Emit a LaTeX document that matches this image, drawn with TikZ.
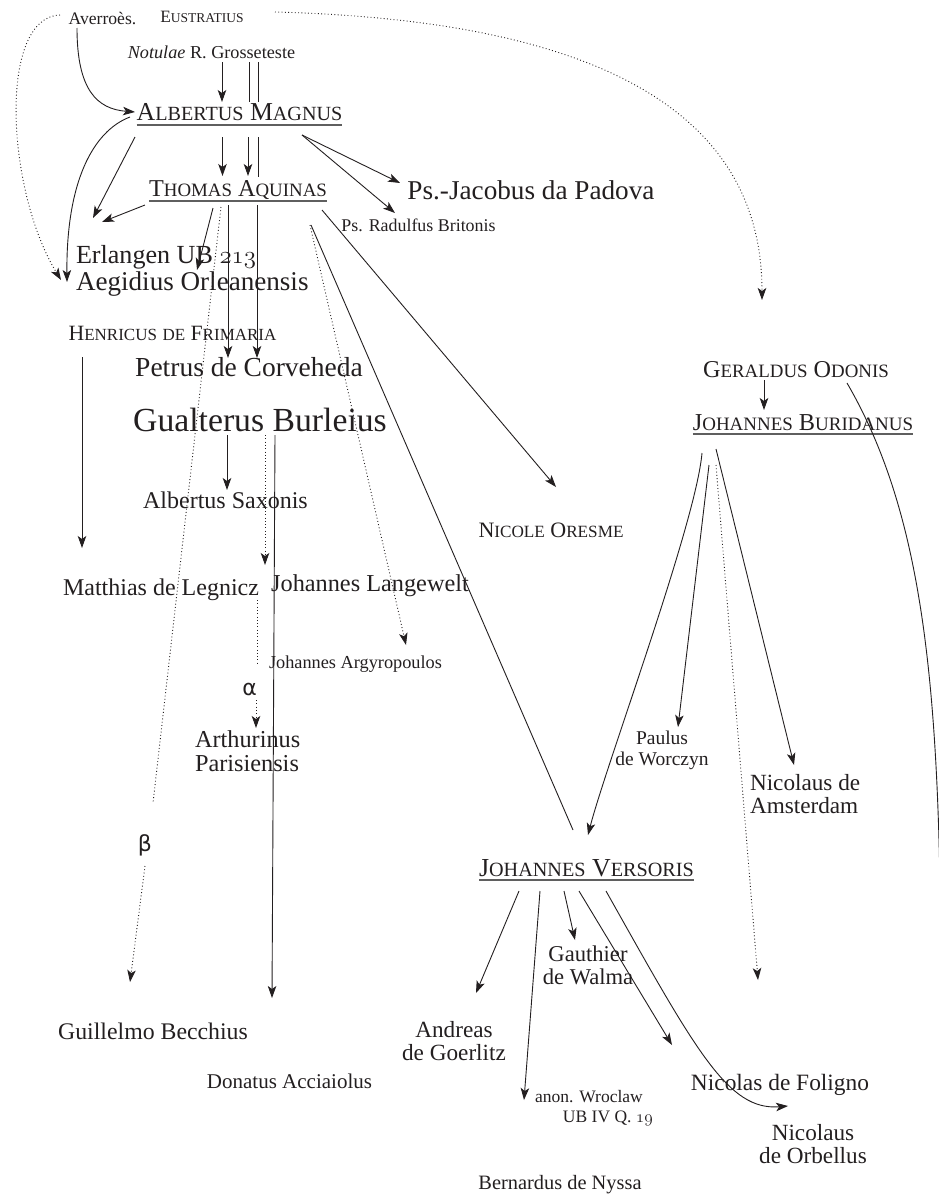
\documentclass[tikz,border=0pt]{standalone}
\usepackage{fontspec}
\usepackage{graphicx}
\setmainfont{Liberation Serif}
\usetikzlibrary{arrows.meta}
\newfontfamily\grk{DejaVu Sans}
\definecolor{ink}{RGB}{35,31,32}
\definecolor{ulc}{RGB}{95,95,95}
\newcommand\fsz[2]{\fontsize{#1}{#2}\selectfont}
\newcommand\fsc[2]{#1\scalebox{0.78}{#2}}
\tikzset{
  lbl/.style={inner sep=0pt, outer sep=0pt, text=ink, anchor=base},
  mlbl/.style={inner sep=0pt, outer sep=0pt, text=ink, align=center, anchor=center},
  ln/.style={draw=ink, line width=0.9pt},
  arr/.style={ln, -{Stealth[length=12pt,width=8.5pt,inset=3pt]}},
  dotline/.style={draw=ink, line width=0.9pt, dash pattern=on 0.9pt off 2.4pt},
  darr/.style={dotline, -{Stealth[length=12pt,width=8.5pt,inset=3pt]}},
  uline/.style={draw=ulc, line width=1.6pt},
}
\begin{document}
\begin{tikzpicture}[x=1pt,y=-1pt]
\useasboundingbox (0,0) rectangle (939,1197);
% ---------------- nodes
\node[lbl,font=\fsz{17.6}{19}] (av) at (102.5,24) {Averroès.};
\node[lbl,font=\fsz{17.3}{19}] (eu) at (202,22) {\fsc{E}{USTRATIUS}};
\node[lbl,font=\fsz{18.2}{20}] (nt) at (211.5,58.3) {\textit{Notulae} R. Grosseteste};
\node[lbl,font=\fsz{25.8}{28}] (am) at (239.5,120.7) {\fsc{A}{LBERTUS} \fsc{M}{AGNUS}};
\node[lbl,font=\fsz{24.2}{26}] (ta) at (238,196.7) {\fsc{T}{HOMAS} \fsc{A}{QUINAS}};
\node[lbl,font=\fsz{27.2}{29}] (pj) at (531,199.3) {Ps.-Jacobus da Padova};
\node[lbl,font=\fsz{17.9}{19}] (pr) at (418.5,231.7) {Ps. Radulfus Britonis};
\node[lbl,anchor=base west,font=\fsz{26.1}{28}] (er) at (76,263) {Erlangen UB $\mathnormal{213}$};
\node[lbl,anchor=base west,font=\fsz{27.1}{28}] (ae) at (76,290) {Aegidius Orleanensis};
\node[lbl,font=\fsz{21.8}{23}] (hf) at (172.5,340) {\fsc{H}{ENRICUS} \scalebox{0.78}{DE} \fsc{F}{RIMARIA}};
\node[lbl,font=\fsz{27.5}{29}] (pc) at (249,376.7) {Petrus de Corveheda};
\node[lbl,font=\fsz{33.7}{35}] (gb) at (260,431.7) {Gualterus Burleius};
\node[lbl,font=\fsz{24}{26}] (as) at (225.5,508) {Albertus Saxonis};
\node[lbl,font=\fsz{22}{24}] (oresme) at (551,537) {\fsc{N}{ICOLE} \fsc{O}{RESME}};
\node[lbl,font=\fsz{24}{26}] (ml) at (161,595) {Matthias de Legnicz};
\node[lbl,font=\fsz{24.3}{26}] (jl) at (370,591.7) {Johannes Langewelt};
\node[lbl,font=\fsz{18.3}{20}] (ja) at (355.5,668) {Johannes Argyropoulos};
\node[lbl,font=\fsz{22}{24}\grk] (alpha) at (249.5,695) {α};
\node[mlbl,anchor=west,align=left,font=\fsz{24.3}{24}] (ap) at (195,751) {Arthurinus\\Parisiensis};
\node[mlbl,font=\fsz{22}{24}\grk] (beta) at (145,845) {β};
\node[lbl,font=\fsz{23.8}{26}] (gbe) at (153,1039) {Guillelmo Becchius};
\node[lbl,font=\fsz{21}{23}] (da) at (289.5,1088) {Donatus Acciaiolus};
\node[lbl,font=\fsz{24.2}{26}] (go) at (796,377) {\fsc{G}{ERALDUS} \fsc{O}{DONIS}};
\node[lbl,font=\fsz{24.3}{26}] (jb) at (803,430) {\fsc{J}{OHANNES} \fsc{B}{URIDANUS}};
\node[mlbl,font=\fsz{19.5}{21}] (pw) at (662,750) {Paulus\\de Worczyn};
\node[mlbl,anchor=west,align=left,font=\fsz{23.2}{23}] (na) at (750,794) {Nicolaus de\\Amsterdam};
\node[lbl,font=\fsz{25.9}{28}] (jv) at (586.5,876) {\fsc{J}{OHANNES} \fsc{V}{ERSORIS}};
\node[mlbl,font=\fsz{22.6}{23}] (gw) at (588,965) {Gauthier\\de Walma};
\node[mlbl,font=\fsz{23.2}{23}] (ag) at (454,1041) {Andreas\\de Goerlitz};
\node[mlbl,align=right,font=\fsz{17.5}{20}] (aw) at (594,1108) {anon. Wroclaw\hspace*{10pt}\\UB IV Q. $\mathnormal{19}$};
\node[lbl,font=\fsz{23.4}{25}] (nf) at (780,1090) {Nicolas de Foligno};
\node[mlbl,font=\fsz{23.2}{23}] (nob) at (813,1144) {Nicolaus\\de Orbellus};
\node[lbl,font=\fsz{20.4}{22}] (bn) at (560,1189) {Bernardus de Nyssa};
\coordinate (goend) at (940,885);
% ---------------- underlines
\foreach \n in {am,ta,jb,jv}
  \draw[uline] ([yshift=-4pt]\n.base west) -- ([yshift=-4pt]\n.base east);
% ---------------- connectors
\draw[arr] ([shift={(-25.5,4)}]av.base) .. controls +(0,62) and +(-38,-3) .. ([shift={(-104.5,-8.7)}]am.base);
\draw[darr] ([shift={(-42.5,-9)}]av.base) .. controls +(-62,2) and +(-55,-90) .. ([shift={(-15,-10)}]ae.base west);
\draw[darr] ([shift={(73,-10)}]eu.base) .. controls +(310,8) and +(0,-195) .. ([shift={(-34,-77)}]go.base);
\draw[arr] ([shift={(10.5,3.7)}]nt.base) -- ([shift={(-17.5,-18.7)}]am.base);
\draw[ln] ([shift={(37.5,3.7)}]nt.base) -- ([shift={(9.5,-18.7)}]am.base);
\draw[ln] ([shift={(46.5,3.7)}]nt.base) -- ([shift={(18.5,-18.7)}]am.base);
\draw[arr] ([shift={(-17,16.3)}]am.base) -- ([shift={(-15.5,-20.7)}]ta.base);
\draw[arr] ([shift={(8.5,16.3)}]am.base) -- ([shift={(10,-20.7)}]ta.base);
\draw[ln] ([shift={(18.5,16.3)}]am.base) -- ([shift={(20,-19.7)}]ta.base);
\draw[arr] ([shift={(-104.5,16.3)}]am.base) -- ([shift={(17,-45)}]er.base west);
\draw[arr] ([shift={(-93,8.3)}]ta.base) -- ([shift={(26,-41)}]er.base west);
\draw[arr] ([shift={(-109.5,-3.7)}]am.base) .. controls +(-37,14) and +(-1,-100) .. ([shift={(-9,-8)}]ae.base west);
\draw[arr] ([shift={(62.5,14.3)}]am.base) -- ([shift={(-131,-16.3)}]pj.base);
\draw[arr] ([shift={(62.5,14.3)}]am.base) -- ([shift={(-23.5,-18.7)}]pr.base);
\draw[arr] ([shift={(-25,11.3)}]ta.base) -- ([shift={(121,-20)}]ae.base west);
\draw[arr] ([shift={(-10,8.3)}]ta.base) -- ([shift={(-21,-18.7)}]pc.base);
\draw[arr] ([shift={(19,8.3)}]ta.base) -- ([shift={(8,-18.7)}]pc.base);
\draw[dotline] ([shift={(-17,10.3)}]ta.base) -- ([shift={(8,-42)}]beta.center);
\draw[darr] ([shift={(0,21)}]beta.center) -- ([shift={(-23,-57)}]gbe.base);
\draw[darr] ([shift={(72,28.3)}]ta.base) -- ([shift={(50.5,-23)}]ja.base);
\draw[ln] ([shift={(73,28.3)}]ta.base) -- ([shift={(-13.5,-46)}]jv.base);
\draw[arr] ([shift={(84,13.3)}]ta.base) -- ([shift={(5,-50)}]oresme.base);
\draw[arr] ([shift={(-33,3.3)}]gb.base) -- ([shift={(1.5,-18)}]as.base);
\draw[darr] ([shift={(5,3.3)}]gb.base) -- ([shift={(-105,-26.7)}]jl.base);
\draw[arr] ([shift={(15,3.3)}]gb.base) -- ([shift={(-17.5,-90)}]da.base);
\draw[dotline] ([shift={(96,5)}]ml.base) -- ([shift={(7.5,-30)}]alpha.base);
\draw[darr] ([shift={(6.5,5)}]alpha.base) -- ([shift={(61,-23)}]ap.west);
\draw[arr] ([shift={(-90.5,17)}]hf.base) -- ([shift={(-79,-47)}]ml.base);
\draw[arr] ([shift={(-32,3)}]go.base) -- ([shift={(-39,-20)}]jb.base);
\draw[ln] ([shift={(51,6)}]go.base) .. controls +(68,117) and +(-4,-235) .. (goend);
\draw[arr] ([shift={(-101,23)}]jb.base) .. controls +(-6,70) and +(18,-70) .. ([shift={(1.5,-41)}]jv.base);
\draw[arr] ([shift={(-94,35)}]jb.base) -- ([shift={(16,-23)}]pw.center);
\draw[arr] ([shift={(-87,19)}]jb.base) -- ([shift={(44,-29)}]na.west);
\draw[darr] ([shift={(-87,35)}]jb.base) -- ([shift={(-22,-110)}]nf.base);
\draw[arr] ([shift={(-67.5,15)}]jv.base) -- ([shift={(22,-48)}]ag.center);
\draw[arr] ([shift={(-46.5,15)}]jv.base) -- ([shift={(-70,-8)}]aw.center);
\draw[arr] ([shift={(-22.5,15)}]jv.base) -- ([shift={(-13,-25)}]gw.center);
\draw[arr] ([shift={(-7.5,15)}]jv.base) -- ([shift={(-108,-45)}]nf.base);
\draw[arr] ([shift={(19.5,15)}]jv.base) .. controls +(90,160) and +(-60,5) .. ([shift={(-25,-38)}]nob.center);
\end{tikzpicture}
\end{document}
